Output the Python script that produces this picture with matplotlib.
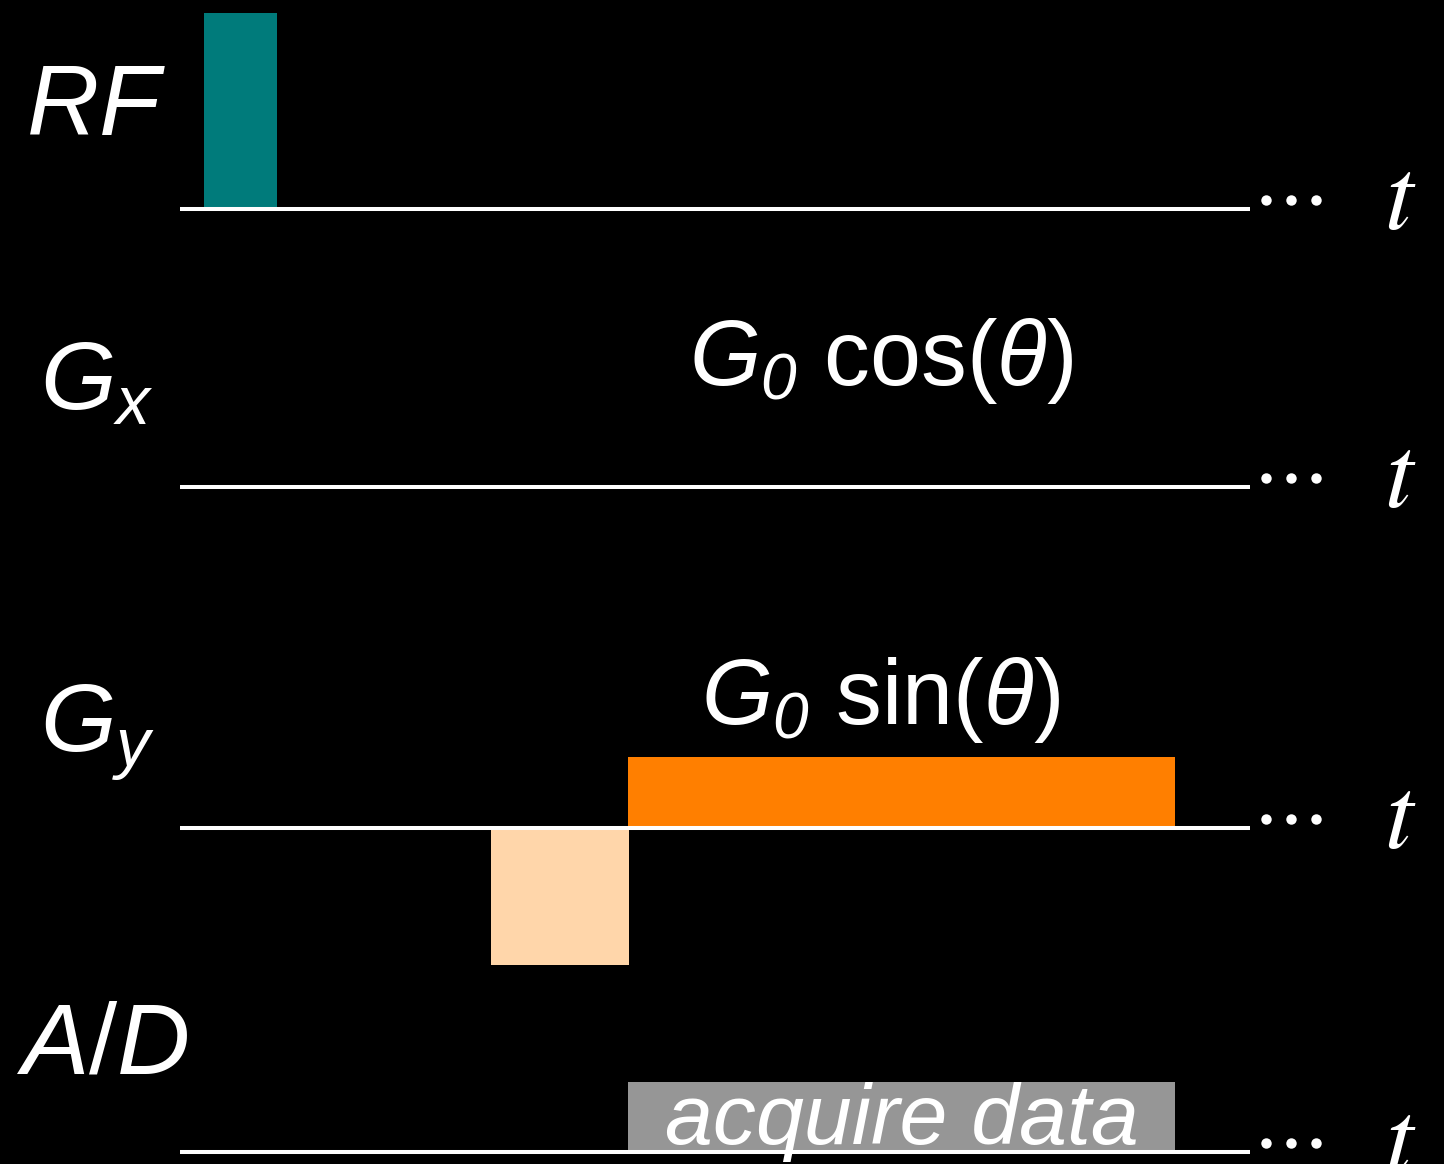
import matplotlib
matplotlib.use("Agg")
import matplotlib.pyplot as plt
import numpy as np

plt.rcParams['mathtext.fontset'] = 'custom'
plt.rcParams['mathtext.rm'] = 'Liberation Sans'
plt.rcParams['mathtext.it'] = 'Liberation Sans:italic'
plt.rcParams['mathtext.sf'] = 'Liberation Sans:italic'
plt.rcParams['mathtext.bf'] = 'Liberation Sans:bold'

# canvas in pixels, y grows downward
W, H = 1444, 1164

# time axis (pixel units along x)
t_start, t_end = 180, 1250

# rows of the sequence diagram and their baselines
rows = ['RF', 'Gx', 'Gy', 'A/D']
row_labels = [r'$RF$', r'$G_x$', r'$G_y$', r'$A/D$']
row_base = [209, 487, 828, 1152]

# pulses: row, start, end, amplitude
pulse_row = ['RF', 'Gy', 'Gy', 'A/D']
pulse_start = [204, 491, 628, 628]
pulse_end = [277, 629, 1175, 1175]
pulse_amp = [196, -137, 71, 70]
pulse_color = ['#007b7b', '#ffd6aa', '#ff7f00', '#969696']

# gradient annotations
grad_text = [r'$G_{\mathsf{0}}\ \mathrm{cos}(\mathit{\theta})$',
             r'$G_{\mathsf{0}}\ \mathrm{sin}(\mathit{\theta})$']

fig = plt.figure(figsize=(W / 100, H / 100), dpi=100, facecolor='black')
ax = fig.add_axes([0, 0, 1, 1])
ax.set_facecolor('black')
ax.set_xlim(0, W)
ax.set_ylim(H, 0)
ax.axis('off')

base = dict(zip(rows, row_base))

# pulses
for r, s, e, a, c in zip(pulse_row, pulse_start, pulse_end, pulse_amp, pulse_color):
    ax.bar(s, -a, width=e - s, bottom=base[r], align='edge', color=c,
           linewidth=0, zorder=2)

# baselines, dots and t
for y in row_base:
    ax.plot([t_start, t_end], [y, y], color='white', lw=2.9, zorder=3,
            solid_capstyle='butt')
    ax.plot(t_end + np.array([16, 41, 66]), [y - 9] * 3, 'o', color='white',
            ms=7.5, mec='none', zorder=3)
    ax.text(1384, y + 20, r'$t$', math_fontfamily='stix',
            fontsize=74, color='white', va='baseline', ha='left')

# row labels
ax.text(26, 135, row_labels[0], fontsize=72, color='white', va='baseline')
ax.text(40, 410, row_labels[1], fontsize=70, color='white', va='baseline')
ax.text(40, 752, row_labels[2], fontsize=70, color='white', va='baseline')
ax.text(16, 1073, row_labels[3], fontsize=73, color='white', va='baseline')

# gradient labels
ax.text(881, 385, grad_text[0], fontsize=66, color='white', ha='center', va='baseline')
ax.text(881, 724, grad_text[1], fontsize=66, color='white', ha='center', va='baseline')

# acquisition window label
adc_mid = (pulse_start[3] + pulse_end[3]) / 2
ax.text(adc_mid, 1144, 'acquire data', family='Liberation Sans', style='italic',
        fontsize=62, color='white', ha='center', va='baseline', zorder=4)

fig.savefig('out.png', dpi=100, facecolor='black')
